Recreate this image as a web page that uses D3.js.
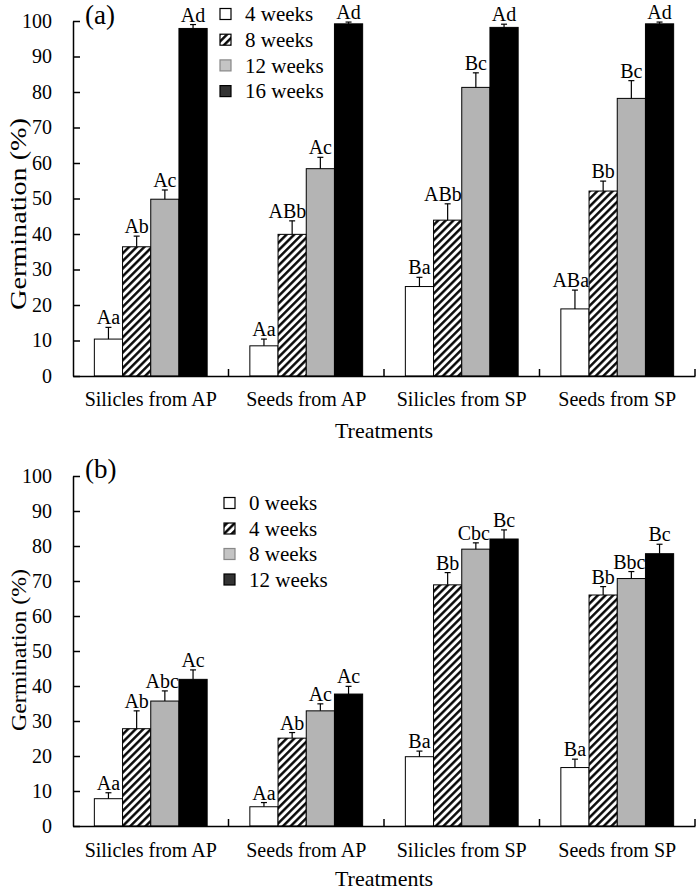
<!DOCTYPE html>
<html><head><meta charset="utf-8">
<script src="https://cdn.jsdelivr.net/npm/d3@7"></script>
<style>body{margin:0;background:#fff}svg{display:block}svg text{font-family:"Liberation Serif","Times New Roman",serif !important;fill:#000}</style>
</head><body>
<svg id="chart" width="700" height="893"></svg>
<script>
const categories = ["Silicles from AP","Seeds from AP","Silicles from SP","Seeds from SP"];
const yTicks = [0,10,20,30,40,50,60,70,80,90,100];

// Panel (a)
const seriesA = ["4 weeks","8 weeks","12 weeks","16 weeks"];
const valuesA = [
  [10.4, 8.5, 25.2, 18.9],
  [36.4, 39.9, 43.9, 52.1],
  [49.8, 58.4, 81.3, 78.2],
  [97.9, 99.2, 98.2, 99.2]
];
const errorsA = [
  [3.3, 1.9, 2.6, 5.3],
  [3.0, 3.8, 4.6, 2.8],
  [2.6, 3.2, 4.1, 5.0],
  [1.1, 0.5, 0.9, 0.5]
];
const lettersA = [
  ["Aa","Aa","Ba","ABa"],
  ["Ab","ABb","ABb","Bb"],
  ["Ac","Ac","Bc","Bc"],
  ["Ad","Ad","Ad","Ad"]
];

// Panel (b)
const seriesB = ["0 weeks","4 weeks","8 weeks","12 weeks"];
const valuesB = [
  [7.8, 5.5, 19.8, 16.7],
  [27.8, 25.1, 68.9, 66.0],
  [35.7, 32.9, 79.1, 70.7],
  [41.9, 37.7, 82.0, 77.8]
];
const errorsB = [
  [1.7, 1.2, 1.6, 2.4],
  [5.1, 1.6, 3.5, 2.4],
  [2.9, 2.0, 1.8, 2.0],
  [2.7, 2.2, 2.6, 2.7]
];
const lettersB = [
  ["Aa","Aa","Ba","Ba"],
  ["Ab","Ab","Bb","Bb"],
  ["Abc","Ac","Cbc","Bbc"],
  ["Ac","Ac","Bc","Bc"]
];

const FONT = "Liberation Serif";
const svg = d3.select("#chart");
const defs = svg.append("defs");
const pat = defs.append("pattern").attr("id","hatch").attr("patternUnits","userSpaceOnUse")
  .attr("width",5.4).attr("height",5.4).attr("patternTransform","rotate(45)");
pat.append("rect").attr("width",5.4).attr("height",5.4).attr("fill","#fff");
pat.append("line").attr("x1",1.3).attr("y1",-1).attr("x2",1.3).attr("y2",7).attr("stroke","#000").attr("stroke-width",2.4);

const barFills = ["#ffffff","url(#hatch)","#b4b4b4","#000000"];
const legFills = ["#ffffff","url(#hatch)","#c4c4c4","#333333"];
const legStroke = ["#000","#000","#888","#000"];

function txt(sel){ return sel.append("text").attr("font-family",FONT).attr("fill","#000"); }

function panel(cfg){
  const g = svg.append("g");
  const x0 = d3.scaleBand().domain(categories).range([73,695]).padding(0);
  const x1 = d3.scaleBand().domain(d3.range(4)).range([0,x0.bandwidth()]).paddingInner(0).paddingOuter(0.757);
  const y = d3.scaleLinear().domain([0,100]).range(cfg.yRange);
  const bw = x1.bandwidth();
  const labels = [];

  // bars
  cfg.values.forEach((vals,s)=>{
    vals.forEach((v,c)=>{
      const bx = x0(categories[c]) + x1(s);
      g.append("rect").attr("x",bx).attr("y",y(v)).attr("width",bw).attr("height",y(0)-y(v))
        .attr("fill",barFills[s]).attr("stroke","#000").attr("stroke-width",1);
      const e = v + cfg.errors[s][c];
      const cx = bx + bw/2;
      g.append("line").attr("x1",cx).attr("x2",cx).attr("y1",y(v)).attr("y2",y(e)).attr("stroke","#000").attr("stroke-width",1.2);
      g.append("line").attr("x1",cx-3).attr("x2",cx+3).attr("y1",y(e)).attr("y2",y(e)).attr("stroke","#000").attr("stroke-width",1.2);
      labels.push({cx, ty:y(e)-3, t:cfg.letters[s][c]});
    });
  });
  labels.forEach(l=>{
    const t = txt(g).attr("x",l.cx).attr("y",l.ty).attr("text-anchor","middle").attr("font-size",20).text(l.t);
    const w = t.node().getComputedTextLength();
    const shift = Math.max(0,(w-bw)/2);
    t.attr("x", l.cx - shift);
  });

  // y axis
  const ya = d3.axisLeft(y).tickValues(yTicks).tickSize(-7).tickPadding(21).tickSizeOuter(0);
  const yg = g.append("g").attr("transform","translate(73,0)").call(ya).attr("font-family",FONT);
  yg.select(".domain").attr("stroke","#000").attr("stroke-width",1.5);
  yg.selectAll(".tick line").attr("stroke","#000").attr("stroke-width",1.5);
  yg.selectAll(".tick text").attr("font-size",20).attr("font-family",FONT).attr("fill","#000");

  // x axis
  const xa = d3.axisBottom(x0).tickSize(0).tickPadding(0).tickFormat(()=>"");
  const xg = g.append("g").attr("transform",`translate(0,${cfg.yRange[0]})`).call(xa);
  xg.select(".domain").attr("stroke","#000").attr("stroke-width",1.5);
  categories.forEach((c,i)=>{
    if(i>0){
      g.append("line").attr("x1",x0(c)).attr("x2",x0(c)).attr("y1",cfg.yRange[0]).attr("y2",cfg.yRange[0]-7).attr("stroke","#000").attr("stroke-width",1.5);
    }
    txt(g).attr("x",x0(c)+x0.bandwidth()/2).attr("y",cfg.catY).attr("text-anchor","middle")
      .attr("font-size",20).text(c);
  });
  g.append("line").attr("x1",695).attr("x2",695).attr("y1",cfg.yRange[0]).attr("y2",cfg.yRange[0]-7).attr("stroke","#000").attr("stroke-width",1.5);

  txt(g).attr("x",384).attr("y",cfg.titleY).attr("text-anchor","middle").attr("font-size",22).text("Treatments");

  txt(g).attr("transform",`translate(26,${cfg.yTitleC}) rotate(-90)`).attr("text-anchor","middle")
    .attr("font-size",cfg.yTitleSize).attr("textLength",cfg.yTitleLen).attr("lengthAdjust","spacingAndGlyphs").text("Germination (%)");

  txt(g).attr("x",85).attr("y",cfg.labelY).attr("font-size",27).text(cfg.label);

  // legend
  cfg.series.forEach((s,i)=>{
    const ly = cfg.legY + i*cfg.legStep;
    g.append("rect").attr("x",cfg.legX).attr("y",ly-5.5).attr("width",11).attr("height",11)
      .attr("fill",legFills[i]).attr("stroke",legStroke[i]).attr("stroke-width",1.2);
    txt(g).attr("x",cfg.legX+25).attr("y",ly).attr("dy","0.35em").attr("font-size",21).text(s);
  });
}

panel({values:valuesA, errors:errorsA, letters:lettersA, series:seriesA, yRange:[376,21],
  catY:406, titleY:438, yTitleC:214, yTitleLen:192, yTitleSize:23, label:"(a)", labelY:24, legX:220, legY:14, legStep:25.7});
panel({values:valuesB, errors:errorsB, letters:lettersB, series:seriesB, yRange:[826,476],
  catY:857, titleY:886, yTitleC:650, yTitleLen:162, yTitleSize:22, label:"(b)", labelY:478, legX:224, legY:503, legStep:25.5});
</script>
</body></html>
